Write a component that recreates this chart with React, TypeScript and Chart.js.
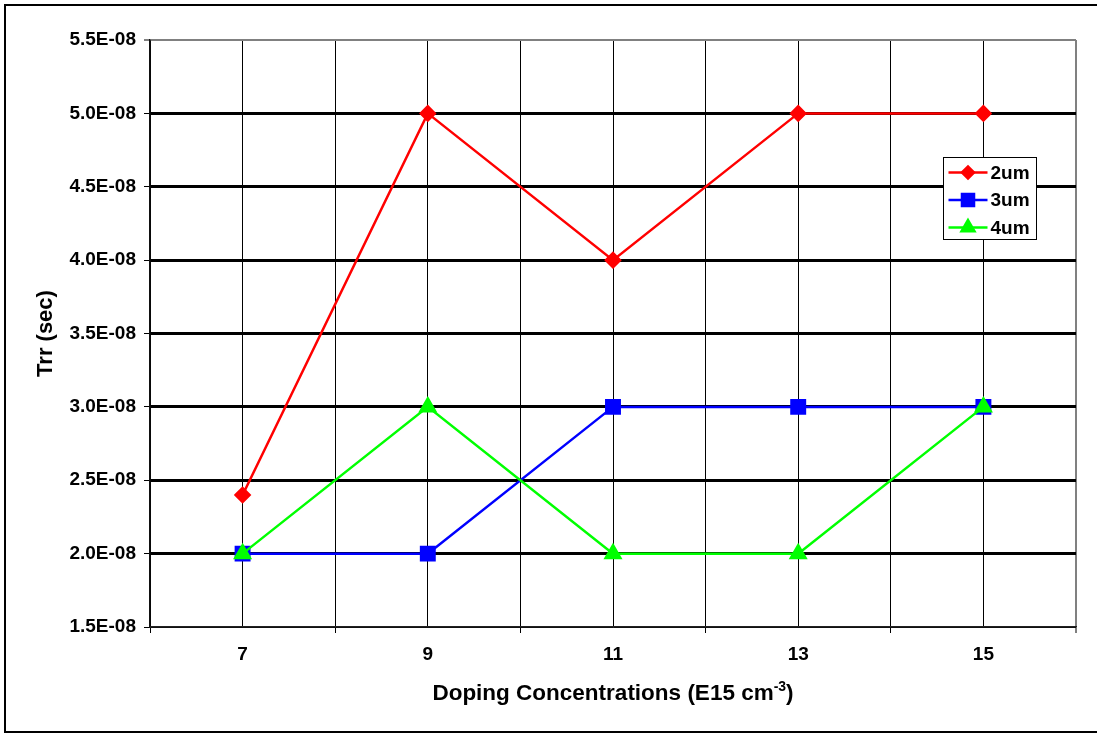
import React, { useEffect, useRef } from 'react';
import { Chart, registerables } from 'chart.js';
import { drawPoint } from 'chart.js/helpers';

Chart.register(...registerables);

// Doping concentration (E15 cm^-3) and reverse recovery time (s) per layer thickness
const concentrations = [7, 9, 11, 13, 15];
const trr2um = [2.4e-8, 5.0e-8, 4.0e-8, 5.0e-8, 5.0e-8];
const trr3um = [2.0e-8, 2.0e-8, 3.0e-8, 3.0e-8, 3.0e-8];
const trr4um = [2.0e-8, 3.0e-8, 2.0e-8, 2.0e-8, 3.0e-8];
const seriesLabels = ['2um', '3um', '4um'];

const xAxisMin = 6;
const xAxisMax = 16;
const yAxisMin = 1.5e-8;
const yAxisMax = 5.5e-8;
const yAxisStep = 0.5e-8;

const xTitleMain = 'Doping Concentrations (E15 cm';
const xTitleSup = '-3';
const xTitleEnd = ')';
const yTitle = 'Trr (sec)';

const FONT = '"Liberation Sans", Arial, Helvetica, sans-serif';

const toPoints = (ys: number[]) => concentrations.map((x, i) => ({ x, y: ys[i] }));

const formatSci = (v: number) => (Math.round(v * 1e9) / 10).toFixed(1) + 'E-08';

// Outer frame, x-axis title with superscript, and boxed legend
const decorPlugin = {
  id: 'decor',
  afterDraw(chart: any) {
    const { ctx, chartArea } = chart;
    ctx.save();

    // frame around the whole figure
    ctx.strokeStyle = '#000';
    ctx.lineWidth = 2;
    ctx.strokeRect(5, 5, chart.width + 10, chart.height - 2 - 5);

    // x-axis title
    const cx = (chartArea.left + chartArea.right) / 2;
    const baseY = 700;
    ctx.fillStyle = '#000';
    ctx.textBaseline = 'alphabetic';
    ctx.textAlign = 'left';
    const mainFont = `bold 22.5px ${FONT}`;
    const supFont = `bold 14px ${FONT}`;
    ctx.font = mainFont;
    const w1 = ctx.measureText(xTitleMain).width;
    const w3 = ctx.measureText(xTitleEnd).width;
    ctx.font = supFont;
    const w2 = ctx.measureText(xTitleSup).width;
    let x = cx - (w1 + w2 + w3) / 2;
    ctx.font = mainFont;
    ctx.fillText(xTitleMain, x, baseY);
    x += w1;
    ctx.font = supFont;
    ctx.fillText(xTitleSup, x, baseY - 9);
    x += w2;
    ctx.font = mainFont;
    ctx.fillText(xTitleEnd, x, baseY);

    // legend box
    const lx = chartArea.right - 132.5;
    const ly = 157.5;
    const lw = 93;
    const lh = 82;
    ctx.fillStyle = '#fff';
    ctx.fillRect(lx, ly, lw, lh);
    ctx.strokeStyle = '#000';
    ctx.lineWidth = 1;
    ctx.strokeRect(lx, ly, lw, lh);

    chart.data.datasets.forEach((ds: any, i: number) => {
      const ry = ly + 15 + i * 27.5;
      ctx.strokeStyle = ds.borderColor;
      ctx.lineWidth = 2.5;
      ctx.beginPath();
      ctx.moveTo(lx + 5, ry);
      ctx.lineTo(lx + 44, ry);
      ctx.stroke();
      ctx.fillStyle = ds.pointBackgroundColor;
      ctx.strokeStyle = ds.pointBorderColor;
      drawPoint(ctx, {
        pointStyle: ds.pointStyle,
        radius: ds.legendRadius,
        rotation: 0,
        borderWidth: 1,
      } as any, lx + 24.5, ry);
      ctx.fillStyle = '#000';
      ctx.font = `bold 19px ${FONT}`;
      ctx.textBaseline = 'middle';
      ctx.fillText(ds.label, lx + 47, ry + 1);
    });

    ctx.restore();
  },
};

export default function App() {
  const canvasRef = useRef<HTMLCanvasElement | null>(null);

  useEffect(() => {
    if (!canvasRef.current) return;
    const chart = new Chart(canvasRef.current, {
      type: 'line',
      data: {
        datasets: [
          {
            label: seriesLabels[0],
            data: toPoints(trr2um),
            borderColor: '#ff0000',
            backgroundColor: '#ff0000',
            pointBackgroundColor: '#ff0000',
            pointBorderColor: '#ff0000',
            pointStyle: 'rectRot',
            pointRadius: 7,
            legendRadius: 6,
            borderWidth: 2.5,
            order: 2,
          } as any,
          {
            label: seriesLabels[1],
            data: toPoints(trr3um),
            borderColor: '#0000ff',
            backgroundColor: '#0000ff',
            pointBackgroundColor: '#0000ff',
            pointBorderColor: '#0000ff',
            pointStyle: 'rect',
            pointRadius: 9.5,
            legendRadius: 8.5,
            borderWidth: 2.5,
            order: 1,
          } as any,
          {
            label: seriesLabels[2],
            data: toPoints(trr4um),
            borderColor: '#00ff00',
            backgroundColor: '#00ff00',
            pointBackgroundColor: '#00ff00',
            pointBorderColor: '#00ff00',
            pointStyle: 'triangle',
            pointRadius: 8.5,
            legendRadius: 7.5,
            borderWidth: 2.5,
            order: 0,
          } as any,
        ],
      },
      options: {
        responsive: false,
        animation: false,
        events: [],
        layout: { padding: { left: 0, right: 21, top: 40, bottom: 0 } },
        plugins: {
          legend: { display: false },
          tooltip: { enabled: false },
          title: { display: false },
        },
        elements: {
          line: { tension: 0 },
          point: { borderWidth: 1, hoverRadius: 0 },
        },
        scales: {
          x: {
            type: 'linear',
            min: xAxisMin,
            max: xAxisMax,
            afterFit: (s: any) => { s.height = 107; },
            ticks: {
              stepSize: 1,
              autoSkip: false,
              maxRotation: 0,
              padding: 10,
              color: '#000',
              font: { family: FONT, size: 19, weight: 'bold' },
              callback: (v: any) => (Number(v) % 2 === 1 ? String(v) : ''),
            },
            grid: {
              color: (c: any) => (c.tick && c.tick.value === xAxisMax ? '#808080' : '#000'),
              lineWidth: (c: any) => (c.tick && c.tick.value === xAxisMax ? 2 : 1),
              tickColor: (c: any) => (c.tick && c.tick.value % 2 === 0 ? '#000' : 'rgba(0,0,0,0)'),
              tickLength: 6,
              tickWidth: 1,
            },
            border: { color: '#222', width: 1.5 },
            title: { display: false },
          },
          y: {
            type: 'linear',
            min: yAxisMin,
            max: yAxisMax,
            afterFit: (s: any) => { s.width = 150; },
            ticks: {
              stepSize: yAxisStep,
              padding: 8,
              color: '#000',
              font: { family: FONT, size: 19, weight: 'bold' },
              callback: (v: any) => formatSci(Number(v)),
            },
            grid: {
              color: (c: any) => {
                const n = c.scale.ticks.length;
                return c.index === n - 1 ? '#808080' : '#000';
              },
              lineWidth: (c: any) => {
                const n = c.scale.ticks.length;
                if (c.index === 0) return 1;
                if (c.index === n - 1) return 2;
                return 3;
              },
              tickColor: '#000',
              tickLength: 6,
              tickWidth: 1,
            },
            border: { color: '#111', width: 1.5 },
            title: {
              display: true,
              text: yTitle,
              color: '#000',
              font: { family: FONT, size: 22, weight: 'bold' },
              padding: { top: 33, bottom: 0 },
            },
          },
        },
      },
      plugins: [decorPlugin],
    });
    return () => chart.destroy();
  }, []);

  return (
    <canvas
      ref={canvasRef}
      width={1097}
      height={734}
      style={{ position: 'fixed', left: 0, top: 0, display: 'block', background: '#fff' }}
    />
  );
}
